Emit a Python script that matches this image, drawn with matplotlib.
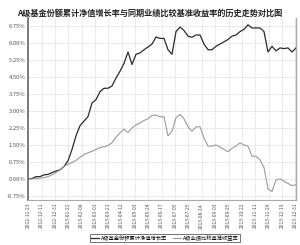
import matplotlib
matplotlib.use("Agg")
import matplotlib.pyplot as plt
import numpy as np
from matplotlib.lines import Line2D

plt.rcParams['font.family'] = ['Noto Sans CJK SC', 'DejaVu Sans']

title = "A级基金份额累计净值增长率与同期业绩比较基准收益率的历史走势对比图"
series_names = ["A级基金份额累计净值增长率", "A级业绩比较基准收益率"]

nav_growth = [0.0, 0.02, 0.1, 0.1, 0.18, 0.2, 0.28, 0.35, 0.4, 0.55, 0.8, 1.3, 1.9, 2.35,
              2.55, 2.75, 3.35, 3.5, 3.85, 4.0, 4.0, 4.1, 4.45, 4.75, 5.1, 5.6, 5.05, 5.5,
              5.56, 5.7, 5.82, 5.95, 6.26, 6.2, 6.2, 5.7, 5.5, 6.5, 6.7, 6.55, 6.3, 6.25,
              6.35, 6.35, 5.95, 5.7, 5.7, 5.85, 5.95, 6.05, 6.15, 6.3, 6.35, 6.5, 6.6, 6.8,
              6.66, 6.66, 6.66, 6.5, 5.6, 5.85, 5.65, 5.78, 5.75, 5.78, 5.6, 5.78]
benchmark = [0.0, 0.0, 0.02, 0.03, 0.06, 0.1, 0.18, 0.28, 0.4, 0.55, 0.65, 0.72, 0.82, 0.95,
             1.08, 1.15, 1.22, 1.3, 1.38, 1.42, 1.47, 1.6, 1.85, 2.03, 2.2, 2.05, 2.25, 2.38,
             2.47, 2.58, 2.65, 2.8, 2.82, 2.74, 2.74, 1.9, 2.1, 2.7, 2.85, 2.65, 2.3, 2.1,
             2.3, 2.3, 1.8, 1.45, 1.45, 1.5, 1.41, 1.3, 1.2, 1.35, 1.45, 1.59, 1.5, 1.45,
             1.0, 1.0, 0.84, 0.5, -0.45, -0.55, -0.05, 0.0, -0.1, -0.2, -0.3, -0.25]

date_labels = ["2012-11-23", "2012-12-11", "2012-12-31", "2013-01-22", "2013-02-08",
               "2013-03-01", "2013-03-21", "2013-04-12", "2013-05-03", "2013-05-24",
               "2013-06-17", "2013-07-05", "2013-07-25", "2013-08-14", "2013-09-03",
               "2013-09-25", "2013-10-22", "2013-11-11", "2013-11-29", "2013-12-19",
               "2013-12-31"]
y_ticks = [-0.75, 0.0, 0.75, 1.5, 2.25, 3.0, 3.75, 4.5, 5.25, 6.0, 6.75]

fig = plt.figure(figsize=(3.0, 2.45), dpi=100)
ax = fig.add_axes([28/300, 1-200/245, 268/300, 182/245])

n = len(nav_growth)
x = np.arange(n)
ax.plot(x, nav_growth, color='#2a2a2a', lw=0.9)
ax.plot(x, benchmark, color='#9a9a9a', lw=0.8)

ax.set_xlim(0, n - 1)
ax.set_ylim(-0.93, 7.1)
tick_pos = np.linspace(0.1, n - 1.2, len(date_labels))
ax.set_xticks(tick_pos)
ax.set_xticklabels(date_labels, rotation=90, fontsize=3.6, color='#555555')
ax.set_yticks(y_ticks)
ax.set_yticklabels([f"{v:.2f}%" for v in y_ticks], fontsize=4.2, color='#555555')
ax.tick_params(length=0, pad=2)
ax.grid(True, color='#bbbbbb', ls=(0, (1, 1.5)), lw=0.5)
ax.spines['top'].set_visible(False)
ax.spines['left'].set_color('#666666')
ax.spines['left'].set_linewidth(1.2)
ax.spines['right'].set_color('#aaaaaa')
ax.spines['right'].set_linewidth(1.0)
ax.spines['bottom'].set_color('#aaaaaa')
ax.spines['bottom'].set_linewidth(0.8)

fig.text(0.5, 1 - 13/245, title, ha='center', va='center', fontsize=5.9, fontweight='bold', color='#222222')

handles = [Line2D([], [], color='#2a2a2a', lw=0.9), Line2D([], [], color='#9a9a9a', lw=0.8)]
leg = fig.legend(handles, series_names, loc='center', bbox_to_anchor=(165/300, 1 - 238/245),
                 ncol=2, fontsize=3.8, frameon=True, fancybox=False, edgecolor='#333333',
                 handlelength=1.5, handletextpad=0.4, columnspacing=1.0, borderpad=0.3)
leg.get_frame().set_linewidth(0.6)

fig.savefig("out.png", dpi=100)
